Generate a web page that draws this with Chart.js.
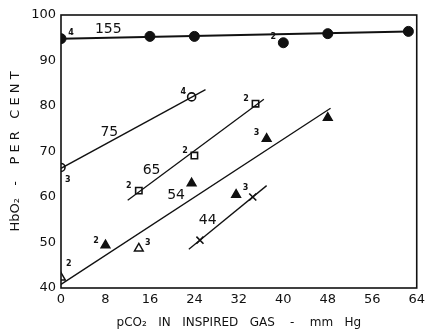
<!DOCTYPE html>
<html>
<head>
<meta charset="utf-8">
<script src="https://cdn.jsdelivr.net/npm/chart.js@4.4.0/dist/chart.umd.min.js"></script>
<style>
  html, body { margin: 0; padding: 0; background: #fff; }
  #wrap { width: 429px; height: 330px; }
</style>
</head>
<body>
<div id="wrap"><canvas id="grafico" width="429" height="330"></canvas></div>
<script>
// valores
var xTicks = [0, 8, 16, 24, 32, 40, 48, 56, 64];
var yTicks = [40, 50, 60, 70, 80, 90, 100];

// 155 - circulos cheios
var s155X = [0, 16, 24, 40, 48, 62.5];
var s155Y = [94.8, 95.3, 95.3, 93.9, 95.9, 96.4];
// 75 - circulos abertos
var s75X = [0, 23.5];
var s75Y = [66.5, 82];
// 65 - quadrados abertos
var s65X = [14, 24, 35];
var s65Y = [61.4, 69.1, 80.5];
// 54 - triangulos
var s54X = [0, 8, 14, 23.5, 31.5, 37, 48];
var s54Y = [42.3, 49.4, 48.7, 63, 60.5, 72.8, 77.4];
var s54Cheio = [false, true, false, true, true, true, true];
// 44 - cruzes
var s44X = [25, 34.5];
var s44Y = [50.5, 60];

// retas ajustadas (extremos)
var reta155X = [0, 62.5], reta155Y = [94.8, 96.4];
var reta75X = [0, 26], reta75Y = [66.3, 83.6];
var reta65X = [12, 36.5], reta65Y = [59.3, 81.5];
var reta54X = [0, 48.5], reta54Y = [40.8, 79.5];
var reta44X = [23, 37], reta44Y = [48.5, 62.5];

// rotulos das curvas
var rotulos = ["155", "75", "65", "54", "44"];
var rotulosX = [8.5, 8.7, 16.3, 20.7, 26.4];
var rotulosY = [96.9, 74.1, 65.8, 60.3, 54.9];

// numeros pequenos junto aos pontos
var notas = ["4", "2", "4", "3", "2", "2", "2", "2", "2", "3", "3", "3"];
var notasX = [1.8, 38.2, 22, 1.2, 12.2, 22.3, 33.3, 1.4, 6.3, 15.6, 33.2, 35.2];
var notasY = [96, 95.2, 83.2, 63.8, 62.4, 70.2, 81.6, 45.2, 50.4, 50, 62, 74];

function pares(xs, ys) {
    var out = [];
    for (var i = 0; i < xs.length; i++) out.push({ x: xs[i], y: ys[i] });
    return out;
}

function reta(xs, ys, w) {
    return {
        data: pares(xs, ys),
        showLine: true,
        borderColor: "#111",
        borderWidth: w,
        pointRadius: 0,
        fill: false
    };
}

var fonteEixo = { family: "DejaVu Sans", size: 13 };

var moldura = {
    id: "moldura",
    afterDraw: function (chart) {
        var c = chart.ctx, a = chart.chartArea;
        c.save();
        c.strokeStyle = "#111";
        c.lineWidth = 1.6;
        c.strokeRect(a.left, a.top, a.right - a.left, a.bottom - a.top);
        c.restore();
    }
};

var textos = {
    id: "textos",
    afterDatasetsDraw: function (chart) {
        var c = chart.ctx, sx = chart.scales.x, sy = chart.scales.y;
        c.save();
        c.fillStyle = "#111";
        c.textAlign = "center";
        c.textBaseline = "middle";
        c.font = "14px 'DejaVu Sans'";
        for (var i = 0; i < rotulos.length; i++) {
            c.fillText(rotulos[i], sx.getPixelForValue(rotulosX[i]), sy.getPixelForValue(rotulosY[i]));
        }
        c.font = "bold 8px 'DejaVu Sans'";
        for (var j = 0; j < notas.length; j++) {
            c.fillText(notas[j], sx.getPixelForValue(notasX[j]), sy.getPixelForValue(notasY[j]));
        }
        c.restore();
    }
};

new Chart(grafico.getContext("2d"), {
    type: "scatter",
    data: {
        datasets: [
            reta(reta155X, reta155Y, 2),
            reta(reta75X, reta75Y, 1.3),
            reta(reta65X, reta65Y, 1.3),
            reta(reta54X, reta54Y, 1.3),
            reta(reta44X, reta44Y, 1.3),
            {
                data: pares(s155X, s155Y),
                pointStyle: "circle",
                pointRadius: 5,
                pointBackgroundColor: "#111",
                pointBorderColor: "#111"
            },
            {
                data: pares(s75X, s75Y),
                pointStyle: "circle",
                pointRadius: 4,
                pointBackgroundColor: "#fff",
                pointBorderColor: "#111",
                pointBorderWidth: 1.6
            },
            {
                data: pares(s65X, s65Y),
                pointStyle: "rect",
                pointRadius: 4.5,
                pointBackgroundColor: "#fff",
                pointBorderColor: "#111",
                pointBorderWidth: 1.6
            },
            {
                data: pares(s54X, s54Y),
                pointStyle: "triangle",
                pointRadius: 5,
                pointBackgroundColor: s54Cheio.map(function (f) { return f ? "#111" : "#fff"; }),
                pointBorderColor: "#111",
                pointBorderWidth: 1.5
            },
            {
                data: pares(s44X, s44Y),
                pointStyle: "crossRot",
                pointRadius: 5,
                pointBorderColor: "#111",
                pointBorderWidth: 1.6
            }
        ]
    },
    options: {
        responsive: false,
        animation: false,
        events: [],
        layout: { padding: { top: 15, right: 9, left: 0, bottom: 0 } },
        scales: {
            x: {
                type: "linear",
                min: 0,
                max: 64,
                afterBuildTicks: function (s) { s.ticks = xTicks.map(function (v) { return { value: v }; }); },
                afterFit: function (s) { s.height = 42; },
                grid: { display: false, drawTicks: false },
                border: { display: false },
                ticks: { color: "#111", font: fonteEixo, padding: 4, maxRotation: 0 },
                title: {
                    display: true,
                    text: "pCO\u2082   IN   INSPIRED   GAS    -    mm   Hg",
                    color: "#111",
                    font: { family: "DejaVu Sans", size: 12 },
                    padding: { top: 6, bottom: 0 }
                }
            },
            y: {
                type: "linear",
                min: 40,
                max: 100,
                afterBuildTicks: function (s) { s.ticks = yTicks.map(function (v) { return { value: v }; }); },
                afterFit: function (s) { s.width = 61; },
                grid: { display: false, drawTicks: false },
                border: { display: false },
                ticks: { color: "#111", font: fonteEixo, padding: 5 },
                title: {
                    display: true,
                    text: "HbO\u2082   -    P E R   C E N T",
                    color: "#111",
                    font: { family: "DejaVu Sans", size: 13 },
                    padding: { top: 8, bottom: 0 }
                }
            }
        },
        plugins: {
            legend: { display: false },
            tooltip: { enabled: false }
        }
    },
    plugins: [moldura, textos]
});
</script>
</body>
</html>
